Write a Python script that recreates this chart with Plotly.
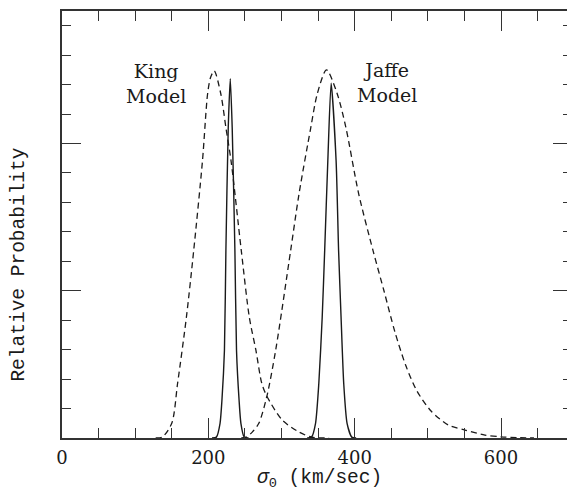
import plotly.graph_objects as go

# King model, dashed (broad) curve
king_dash_x = [128, 137, 150, 158, 170, 180, 192, 199, 203, 208, 217, 224, 231, 245, 256, 265, 273, 280, 301, 324, 341, 365]
king_dash_y = [0, 0.03, 0.5, 1.86, 4.1, 6.37, 9.42, 11.69, 12.24, 12.47, 11.69, 10.54, 9.42, 6.37, 4.1, 2.98, 1.86, 1.42, 0.61, 0.2, 0.03, 0]

# King model, solid (narrow) curve
king_solid_x = [205, 211, 216, 218.6, 222, 224, 227.2, 230, 232.6, 236.3, 238.5, 242, 244.5, 249, 255]
king_solid_y = [0, 0.03, 0.5, 1.29, 2.98, 6.37, 10.54, 12.2, 10.54, 6.37, 2.98, 1.29, 0.5, 0.03, 0]

# Jaffe model, dashed (broad) curve
jaffe_dash_x = [245, 251.7, 260, 269, 280, 292, 312.5, 324, 340, 349, 361.5, 376, 388, 405.4, 425, 440, 455, 470, 485, 505, 528, 550.6, 578, 600, 625, 645]
jaffe_dash_y = [0, 0.03, 0.2, 0.5, 1.42, 2.98, 6.37, 8.3, 10.54, 11.7, 12.5, 11.7, 10.54, 8.3, 6.37, 5.0, 3.6, 2.45, 1.6, 0.9, 0.44, 0.27, 0.1, 0.04, 0.01, 0]

# Jaffe model, solid (narrow) curve
jaffe_solid_x = [335, 341, 346.5, 351, 355.6, 359, 363.3, 367.8, 374.6, 378, 381.4, 385, 389.6, 396, 402]
jaffe_solid_y = [0, 0.03, 0.5, 1.86, 4.1, 6.37, 9.42, 12.05, 9.42, 6.37, 4.1, 1.86, 0.5, 0.03, 0]

x_major_ticks = [0, 200, 400, 600]
y_major_ticks = [0, 5, 10]

serif = "DejaVu Serif"
mono = "Liberation Mono"
ink = "#1a1a1a"

fig = go.Figure()
dash_style = "6px,4px"
fig.add_trace(go.Scatter(x=king_dash_x, y=king_dash_y, mode="lines",
                         line=dict(color=ink, width=1.3, dash=dash_style, shape="spline", smoothing=0.8)))
fig.add_trace(go.Scatter(x=king_solid_x, y=king_solid_y, mode="lines",
                         line=dict(color=ink, width=1.4, shape="spline", smoothing=0.6)))
fig.add_trace(go.Scatter(x=jaffe_dash_x, y=jaffe_dash_y, mode="lines",
                         line=dict(color=ink, width=1.3, dash=dash_style, shape="spline", smoothing=0.8)))
fig.add_trace(go.Scatter(x=jaffe_solid_x, y=jaffe_solid_y, mode="lines",
                         line=dict(color=ink, width=1.4, shape="spline", smoothing=0.6)))

axis_color = "#333333"
fig.update_xaxes(range=[0, 697], showgrid=False, zeroline=False,
                 showline=True, linecolor=axis_color, linewidth=1.5, mirror="ticks",
                 ticks="inside", tickvals=x_major_ticks, ticklen=20, tickwidth=1.3, tickcolor=axis_color,
                 tickfont=dict(family=serif, size=18, color=ink), ticklabelstandoff=3,
                 minor=dict(ticks="inside", dtick=50, tick0=0, ticklen=10, tickwidth=1.3, tickcolor=axis_color, showgrid=False))
fig.update_yaxes(range=[0, 14.5], showgrid=False, zeroline=False,
                 showline=True, linecolor=axis_color, linewidth=1.5, mirror="ticks",
                 ticks="inside", tickvals=y_major_ticks, ticklen=19, tickwidth=1.3, tickcolor=axis_color,
                 showticklabels=False,
                 minor=dict(ticks="inside", dtick=1, tick0=0, ticklen=9, tickwidth=1.3, tickcolor=axis_color, showgrid=False))

fig.add_annotation(x=129, y=12.03, xref="x", yref="y", text="King<br>Model", showarrow=False,
                   font=dict(family=serif, size=19, color=ink), xanchor="center", yanchor="middle")
fig.add_annotation(x=443.5, y=12.07, xref="x", yref="y", text="Jaffe<br>Model", showarrow=False,
                   font=dict(family=serif, size=19, color=ink), xanchor="center", yanchor="middle")
fig.add_annotation(x=0.504, y=-0.0958, xref="paper", yref="paper", text="<i>σ</i><sub>0</sub> (km/sec)",
                   showarrow=False, font=dict(family=mono, size=19.5, color=ink), xanchor="center", yanchor="middle")
fig.add_annotation(x=-0.084, y=0.4065, xref="paper", yref="paper", text="Relative Probability", textangle=-90,
                   showarrow=False, font=dict(family=mono, size=19.5, color=ink), xanchor="center", yanchor="middle")

# the page body adds an 8px margin, so the figure is 8px smaller on each axis
fig.update_layout(width=567, height=484, margin=dict(l=54, r=1, t=2, b=54),
                  paper_bgcolor="white", plot_bgcolor="white", showlegend=False)

fig.write_html("out.html")
